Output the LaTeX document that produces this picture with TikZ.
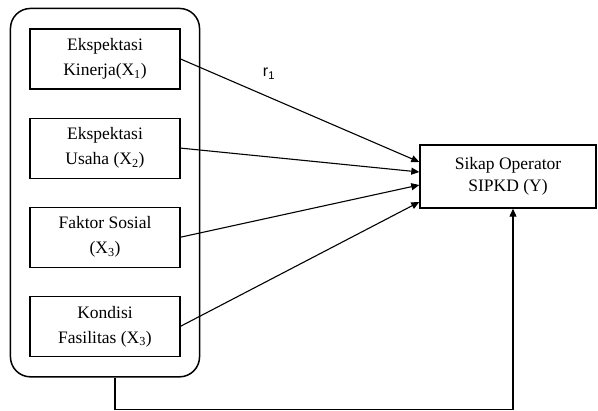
\documentclass[tikz,border=0pt]{standalone}
\usepackage{fontspec}
\setmainfont{Liberation Serif}
\setsansfont{Liberation Sans}
\usepackage{tikz}
\usetikzlibrary{arrows.meta,positioning,calc,fit}
\tikzset{
  var/.style={draw, line width=1.1pt, align=center, minimum width=150pt,
              minimum height=60pt, inner sep=2pt,
              font=\fontsize{17.5}{25}\selectfont},
  grp/.style={draw, line width=1.5pt, rounded corners=20pt},
  dep/.style={draw, line width=1.4pt, align=center, minimum width=176pt,
              minimum height=63pt, inner sep=2pt,
              font=\fontsize{17.5}{22}\selectfont},
  ar/.style={-{Triangle[length=8pt,width=7pt]}, line width=1.1pt},
}

\begin{document}
\begin{tikzpicture}[x=1pt,y=1pt,node distance=28pt]
\useasboundingbox (0,0) rectangle (598,411);
\node[var] (x1) at (105,352) {Ekspektasi\\Kinerja(X\textsubscript{1})};
\node[var, below=of x1] (x2) {Ekspektasi\\Usaha (X\textsubscript{2})};
\node[var, below=of x2] (x3) {Faktor Sosial\\(X\textsubscript{3})};
\node[var, below=of x3] (x4) {Kondisi\\Fasilitas (X\textsubscript{3})};
\node[grp, fit=(x1)(x4), inner xsep=19pt, inner ysep=20pt] (box) {};

\node[dep] (sikap) at (508,234.5) {Sikap Operator\\SIPKD (Y)};
\node[font=\sffamily\fontsize{16}{18}\selectfont] (r1) at (269,337) {r\textsubscript{1}};

\coordinate (in1) at ($(sikap.west)+(0,14.5)$);
\coordinate (in2) at ($(sikap.west)+(0,4.5)$);
\coordinate (in3) at ($(sikap.west)+(0,-8.5)$);
\coordinate (in4) at ($(sikap.west)+(0,-25.5)$);

\draw[ar] (x1.east) -- (in1);
\draw[ar] (x2.east) -- (in2);
\draw[ar] (x3.east) -- (in3);
\draw[ar] (x4.east) -- (in4);
\draw[ar] ($(box.south)+(10,0)$) -- ++(0,-32) -| ($(sikap.south)+(5,0)$);
\end{tikzpicture}
\end{document}
